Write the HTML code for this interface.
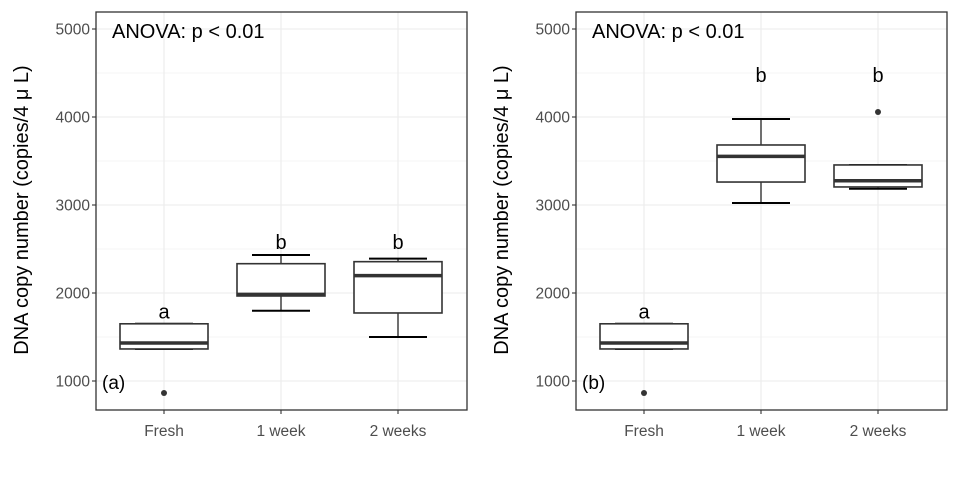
<!DOCTYPE html>
<html><head><meta charset="utf-8"><style>
body{margin:0;background:#fff;}
svg text{font-family:"Liberation Sans",sans-serif;}
</style></head><body>
<svg id="chart" width="960" height="480" xmlns="http://www.w3.org/2000/svg"></svg>
<script>
const categories=["Fresh","1 week","2 weeks"];
const yTicks=[1000,2000,3000,4000,5000];
// [lowWhisker, q1, median, q3, highWhisker]
const panelAStats=[[1364,1364,1432,1650,1650],[1799,1966,1985,2333,2432],[1500,1773,2197,2356,2390]];
const panelAOutliers=[[864],[],[]];
const panelALetters=["a","b","b"];
const panelALetterY=[1790,2580,2580];
const panelBStats=[[1364,1364,1432,1650,1650],[3023,3261,3553,3682,3977],[3185,3205,3276,3455,3455]];
const panelBOutliers=[[864],[],[4057]];
const panelBLetters=["a","b","b"];
const panelBLetterY=[1790,4480,4480];
const NS="http://www.w3.org/2000/svg";
const svg=document.getElementById('chart');
function mk(tag,attrs,parent,text){const e=document.createElementNS(NS,tag);for(const k in attrs)e.setAttribute(k,attrs[k]);if(text!==undefined)e.textContent=text;(parent||svg).appendChild(e);return e;}
function panel(x0,label,stats,outs,letters,letterY,name){
  const x1=x0+371,yTop=12,yBot=410;
  const g=mk('g',{});
  
  
  const y=v=>381-(v-1000)*0.088;
  const x=i=>x0+68+i*117;
  for(let v=500;v<=5200;v+=500){if(y(v)<yTop||y(v)>yBot)continue;const l=mk('line',{x1:x0,x2:x1,y1:y(v),y2:y(v),stroke:'#ebebeb','stroke-width':v%1000?0.6:1.1},g);}
  categories.forEach((c,i)=>{const l=mk('line',{x1:x(i),x2:x(i),y1:yTop,y2:yBot,stroke:'#ebebeb','stroke-width':1.1},g);});
  yTicks.forEach(v=>{mk('line',{x1:x0-4,x2:x0,y1:y(v),y2:y(v),stroke:'#333','stroke-width':1.1},g);const t=mk('text',{x:x0-6,y:y(v)+5.5,'text-anchor':'end','font-size':15.5,fill:'#4d4d4d'},g,v);});
  categories.forEach((c,i)=>{mk('line',{x1:x(i),x2:x(i),y1:yBot,y2:yBot+4,stroke:'#333','stroke-width':1.1},g);const t=mk('text',{x:x(i),y:yBot+26,'text-anchor':'middle','font-size':15.5,fill:'#4d4d4d'},g,c);});
  stats.forEach((s,i)=>{const b=mk('g',{},g);
    const cx=x(i);
    mk('line',{x1:cx,x2:cx,y1:y(s[0]),y2:y(s[1]),stroke:'#333','stroke-width':1.4},b);
    mk('line',{x1:cx,x2:cx,y1:y(s[3]),y2:y(s[4]),stroke:'#333','stroke-width':1.4},b);
    mk('line',{x1:cx-29,x2:cx+29,y1:y(s[0]),y2:y(s[0]),stroke:'#000','stroke-width':2},b);
    mk('line',{x1:cx-29,x2:cx+29,y1:y(s[4]),y2:y(s[4]),stroke:'#000','stroke-width':2},b);
    mk('rect',{x:cx-44,y:y(s[3]),width:88,height:y(s[1])-y(s[3]),fill:'#fff',stroke:'#333','stroke-width':1.6},b);
    mk('line',{x1:cx-44,x2:cx+44,y1:y(s[2]),y2:y(s[2]),stroke:'#333','stroke-width':3.5},b);
    outs[i].forEach(o=>{const c=mk('circle',{cx:cx,cy:y(o),r:3,fill:'#333'},b);});
    const t=mk('text',{x:cx,y:y(letterY[i])+7,'text-anchor':'middle','font-size':20,fill:'#000'},g,letters[i]);
  });
  const f=mk('rect',{x:x0,y:yTop,width:x1-x0,height:yBot-yTop,fill:'none',stroke:'#333','stroke-width':1.3},g);
  const a=mk('text',{x:x0+16,y:38,'font-size':20,fill:'#000'},g,'ANOVA: p < 0.01');
  const p=mk('text',{x:x0+6,y:389,'font-size':19,fill:'#000'},g,label);
  const yt=mk('text',{x:0,y:0,'font-size':20,fill:'#000','text-anchor':'middle',transform:`translate(${x0-68},210) rotate(-90)`},g,'DNA copy number (copies/4 μ L)');
}
panel(96,'(a)',panelAStats,panelAOutliers,panelALetters,panelALetterY,'panel-a');
panel(576,'(b)',panelBStats,panelBOutliers,panelBLetters,panelBLetterY,'panel-b');
</script>
</body></html>
